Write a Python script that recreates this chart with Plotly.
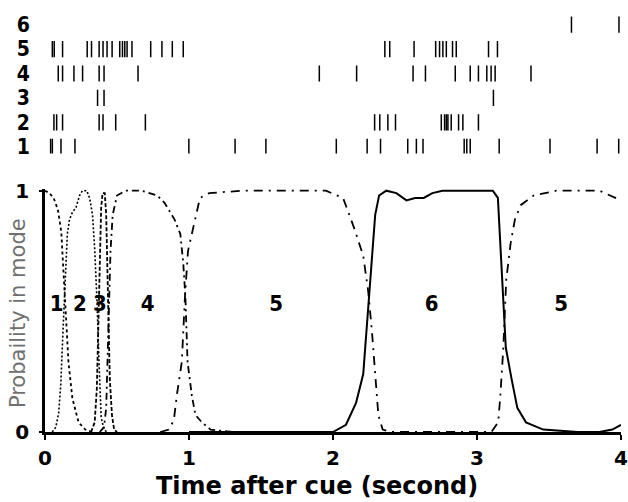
import plotly.graph_objects as go

# ---------------- data ----------------
# spike times (seconds after cue) for each neuron row
spikes_1 = [0.039, 0.051, 0.111, 0.208, 0.999, 1.320, 1.534, 2.023, 2.237, 2.330, 2.519, 2.579,
            2.625, 2.911, 2.929, 2.953, 3.154, 3.507, 3.834, 3.984]
spikes_2 = [0.062, 0.081, 0.122, 0.376, 0.403, 0.491, 0.697, 2.289, 2.325, 2.381, 2.434, 2.752,
            2.775, 2.787, 2.798, 2.821, 2.872, 2.902, 3.010]
spikes_3 = [0.365, 0.410, 3.114]
spikes_4 = [0.092, 0.122, 0.201, 0.261, 0.376, 0.410, 0.646, 1.905, 2.164, 2.556, 2.642, 2.849,
            2.953, 3.010, 3.068, 3.098, 3.126, 3.375]
spikes_5 = [0.051, 0.064, 0.122, 0.293, 0.323, 0.376, 0.403, 0.431, 0.466, 0.519, 0.538, 0.554,
            0.570, 0.604, 0.734, 0.812, 0.884, 0.960, 2.360, 2.394, 2.563, 2.713, 2.740, 2.763,
            2.787, 2.830, 2.856, 3.080, 3.142]
spikes_6 = [3.656, 3.986]
spike_rows = [1, 2, 3, 4, 5, 6]
row_labels = ["1", "2", "3", "4", "5", "6"]

# probability of each hidden mode over time
mode1_t = [0.0, 0.03, 0.06, 0.09, 0.113, 0.139, 0.163, 0.19, 0.233, 0.28, 0.33]
mode1_p = [1.0, 0.99, 0.97, 0.92, 0.83, 0.56, 0.29, 0.14, 0.04, 0.01, 0.0]

mode2_t = [0.05, 0.075, 0.095, 0.11, 0.125, 0.14, 0.155, 0.17, 0.19, 0.215, 0.24, 0.26, 0.29,
           0.31, 0.33, 0.345, 0.36, 0.375, 0.39, 0.41, 0.43]
mode2_p = [0.0, 0.02, 0.08, 0.2, 0.42, 0.65, 0.82, 0.88, 0.91, 0.93, 0.98, 1.0, 1.0, 0.97, 0.9,
           0.76, 0.56, 0.29, 0.06, 0.01, 0.0]

mode3_t = [0.32, 0.345, 0.36, 0.37, 0.38, 0.39, 0.4, 0.415, 0.425, 0.432, 0.44, 0.45, 0.465,
           0.48, 0.5]
mode3_p = [0.0, 0.04, 0.18, 0.45, 0.75, 0.93, 0.99, 0.99, 0.9, 0.7, 0.45, 0.22, 0.07, 0.01, 0.0]

mode4_t = [0.38, 0.41, 0.425, 0.435, 0.445, 0.455, 0.47, 0.5, 0.56, 0.67, 0.78, 0.83, 0.87, 0.9,
           0.94, 0.96, 0.975, 0.99, 1.02, 1.045, 1.09, 1.15, 1.3]
mode4_p = [0.0, 0.02, 0.1, 0.3, 0.55, 0.75, 0.9, 0.98, 1.0, 1.0, 0.98, 0.95, 0.91, 0.88, 0.82,
           0.7, 0.56, 0.29, 0.15, 0.07, 0.04, 0.01, 0.0]

mode5_t = [0.8, 0.86, 0.895, 0.915, 0.95, 0.972, 0.993, 1.018, 1.043, 1.076, 1.14, 1.37, 1.6,
           1.8, 1.95, 2.07, 2.15, 2.21, 2.245, 2.27, 2.295, 2.315, 2.345, 2.4, 2.8, 3.1, 3.147,
           3.162, 3.183, 3.203, 3.233, 3.263, 3.303, 3.393, 3.55, 3.72, 3.85, 4.0]
mode5_p = [0.0, 0.01, 0.05, 0.15, 0.29, 0.56, 0.75, 0.82, 0.89, 0.97, 0.99, 1.0, 1.0, 1.0, 1.0,
           0.97, 0.84, 0.73, 0.58, 0.42, 0.24, 0.07, 0.01, 0.0, 0.0, 0.0, 0.04, 0.15, 0.35, 0.63,
           0.78, 0.88, 0.94, 0.98, 1.0, 1.0, 1.0, 0.96]

mode6_t = [1.0, 1.5, 1.9, 2.0, 2.09, 2.16, 2.21, 2.243, 2.268, 2.293, 2.32, 2.37, 2.44, 2.51,
           2.57, 2.63, 2.69, 2.76, 2.9, 3.05, 3.11, 3.145, 3.16, 3.18, 3.2, 3.24, 3.28, 3.34,
           3.46, 3.7, 3.85, 3.94, 4.0]
mode6_p = [0.0, 0.0, 0.0, 0.0, 0.03, 0.12, 0.24, 0.49, 0.69, 0.9, 0.98, 1.0, 0.99, 0.96, 0.97,
           0.97, 0.99, 1.0, 1.0, 1.0, 1.0, 0.97, 0.79, 0.56, 0.35, 0.22, 0.10, 0.04, 0.01, 0.0,
           0.0, 0.01, 0.03]

mode_label_text = ["1", "2", "3", "4", "5", "6", "5"]
mode_label_t = [0.081, 0.242, 0.381, 0.713, 1.606, 2.685, 3.585]
mode_label_p = [0.526] * 7

x_ticks = [0, 1, 2, 3, 4]
y_ticks = [0, 1]

# ---------------- figure ----------------
fig = go.Figure()

# raster
spike_lists = [spikes_1, spikes_2, spikes_3, spikes_4, spikes_5, spikes_6]
half = 0.33
for row, times in zip(spike_rows, spike_lists):
    xs, ys = [], []
    for t in times:
        xs += [t, t, None]
        ys += [row - half, row + half, None]
    fig.add_trace(go.Scatter(x=xs, y=ys, mode="lines", xaxis="x2", yaxis="y2",
                             line=dict(color="black", width=1.5), showlegend=False,
                             hoverinfo="skip"))

curves = [
    (mode1_t, mode1_p, "dot", 1.8),
    (mode2_t, mode2_p, "2px,2px", 1.6),
    (mode3_t, mode3_p, "4px,2px", 1.8),
    (mode4_t, mode4_p, "7px,4px,2px,4px", 1.8),
    (mode5_t, mode5_p, "9px,6px,2px,6px", 1.8),
    (mode6_t, mode6_p, "solid", 2.0),
]
for tt, pp, dash, w in curves:
    fig.add_trace(go.Scatter(x=tt, y=pp, mode="lines", xaxis="x", yaxis="y",
                             line=dict(color="black", width=w, dash=dash, shape="linear"),
                             showlegend=False, cliponaxis=False))

narrow = "DejaVu Sans Condensed, Liberation Sans Narrow, Arial Narrow, Liberation Sans, Arial"
fig.add_trace(go.Scatter(x=mode_label_t, y=mode_label_p, mode="text", text=mode_label_text,
                         xaxis="x", yaxis="y", showlegend=False,
                         textfont=dict(family=narrow, size=22, color="black", weight=700)))

fig.update_layout(
    width=628, height=502,
    margin=dict(l=45, r=5, t=0, b=70),
    paper_bgcolor="white", plot_bgcolor="white",
    xaxis=dict(domain=[0, 1], range=[0, 4], anchor="y", showline=True, linewidth=2.5,
               linecolor="black", ticks="outside", ticklen=5, tickwidth=2, tickcolor="black",
               tickvals=x_ticks, ticktext=[str(v) for v in x_ticks], showgrid=False,
               zeroline=False, ticklabelstandoff=1, ticklabeloverflow="allow",
               tickfont=dict(family="DejaVu Sans", size=20, color="black", weight=700)),
    yaxis=dict(domain=[0, 0.5764], range=[0, 1.008], anchor="x", showline=True, linewidth=2.5,
               linecolor="black", ticks="outside", ticklen=3, tickwidth=2, tickcolor="black",
               tickvals=y_ticks, ticktext=[str(v) for v in y_ticks], showgrid=False,
               zeroline=False, ticklabelstandoff=6,
               tickfont=dict(family="DejaVu Sans", size=20, color="black", weight=700)),
    xaxis2=dict(domain=[0, 1], range=[0, 4], anchor="y2", visible=False),
    yaxis2=dict(domain=[0.66, 1], range=[0.724, 6.6], anchor="x2", showline=False,
                ticks="", tickvals=spike_rows, ticktext=row_labels, showgrid=False,
                zeroline=False, ticklabelstandoff=14,
                tickfont=dict(family=narrow, size=21, color="black", weight=700)),
    annotations=[
        dict(text="Time after cue (second)", xref="paper", yref="paper", x=0.472, y=-0.128,
             xanchor="center", yanchor="middle", showarrow=False,
             font=dict(family="DejaVu Sans", size=24, color="black", weight=700)),
        dict(text="Probaility in mode", xref="paper", yref="paper", x=-0.0467, y=0.282,
             xanchor="center", yanchor="middle", showarrow=False, textangle=-90,
             font=dict(family="DejaVu Sans", size=21, color="#6f6f6f")),
    ],
)

fig.write_html("out.html")
